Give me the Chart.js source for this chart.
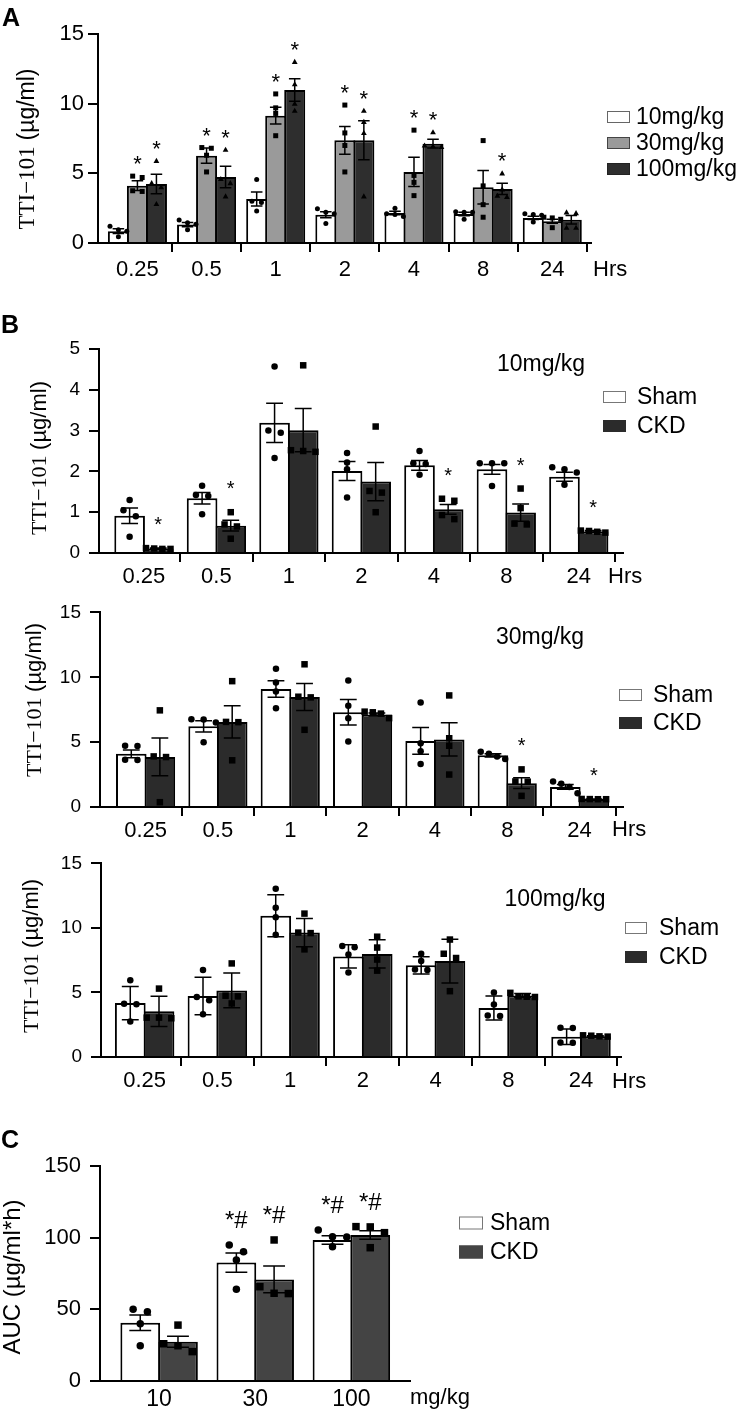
<!DOCTYPE html>
<html>
<head>
<meta charset="utf-8">
<script src="https://cdn.jsdelivr.net/npm/chart.js@4.4.1/dist/chart.umd.min.js"></script>
<style>
  html, body { margin: 0; padding: 0; background: #fff; }
  #fig { position: relative; width: 742px; height: 1409px; overflow: hidden; background: #fff; }
  #fig canvas { position: absolute; left: 0; }
</style>
</head>
<body>
<div id="fig">
  <canvas id="chartA" width="742" height="290" style="top:0px"></canvas>
  <canvas id="chartB10" width="742" height="302" style="top:290px"></canvas>
  <canvas id="chartB30" width="742" height="251" style="top:592px"></canvas>
  <canvas id="chartB100" width="742" height="252" style="top:843px"></canvas>
  <canvas id="chartC" width="742" height="314" style="top:1095px"></canvas>
</div>
<script>
// ---- data ----
const hours = ['0.25', '0.5', '1', '2', '4', '8', '24'];
const doses = ['10', '30', '100'];

// A: TTI-101 by dose (mean, SEM, individual animals)
const a10Mean = [0.85, 1.32, 3.16, 2.03, 2.15, 2.08, 1.8];
const a10Err = [0.17, 0.15, 0.5, 0.22, 0.13, 0.13, 0.12];
const a10Pts = [[1.2, 0.95, 0.85, 0.45], [1.65, 1.45, 1.35, 0.95], [4.55, 3.0, 2.9, 2.3], [2.45, 2.2, 2.1, 1.4], [2.5, 2.1, 2.05, 1.9], [2.25, 2.2, 2.2, 1.7], [2.1, 2.05, 2.0, 1.5]];
const a30Mean = [4.11, 6.27, 9.14, 7.37, 5.1, 4.0, 1.56];
const a30Err = [0.35, 0.55, 0.6, 1.0, 1.05, 1.2, 0.15];
const a30Pts = [[4.8, 4.7, 3.75, 3.7], [6.85, 6.8, 6.3, 5.1], [10.7, 9.7, 9.3, 7.7], [9.9, 7.9, 7.0, 5.1], [8.1, 4.85, 4.35, 3.4], [7.35, 4.1, 2.75, 1.85], [1.85, 1.8, 1.7, 1.1]];
const a30Sig = ['*', '*', '*', '*', '*', '', ''];
const a100Mean = [4.23, 4.74, 10.98, 7.37, 7.13, 3.88, 1.67];
const a100Err = [0.7, 0.77, 0.8, 1.4, 0.32, 0.4, 0.3];
const a100Pts = [[5.9, 4.3, 4.0, 2.8], [6.7, 4.6, 4.3, 3.35], [13.0, 11.4, 10.0, 9.5], [9.5, 8.7, 7.9, 3.35], [7.95, 7.0, 6.95, 6.9], [5.0, 3.85, 3.4, 3.3], [2.2, 2.15, 1.1, 1.1]];
const a100Sig = ['*', '*', '*', '*', '*', '*', ''];

// B: Sham vs CKD at 10 mg/kg
const b10ShamMean = [0.91, 1.34, 3.19, 2.01, 2.15, 2.05, 1.87];
const b10ShamErr = [0.19, 0.14, 0.48, 0.23, 0.12, 0.12, 0.11];
const b10ShamPts = [[1.3, 1.05, 0.9, 0.4], [1.65, 1.42, 1.4, 0.95], [4.57, 3.0, 2.95, 2.33], [2.45, 2.22, 2.05, 1.36], [2.5, 2.2, 2.18, 1.92], [2.2, 2.2, 2.2, 1.64], [2.1, 2.05, 1.97, 1.67]];
const b10CkdMean = [0.11, 0.67, 3.01, 1.75, 1.07, 0.99, 0.53];
const b10CkdErr = [0.01, 0.13, 0.53, 0.47, 0.12, 0.21, 0.02];
const b10CkdPts = [[0.12, 0.11, 0.1, 0.1], [1.0, 0.7, 0.65, 0.35], [4.6, 2.52, 2.5, 2.48], [3.1, 1.52, 1.48, 1.0], [1.33, 1.28, 0.93, 0.83], [1.58, 1.1, 0.72, 0.7], [0.55, 0.54, 0.52, 0.5]];
const b10Sig = ['*', '*', '', '', '*', '*', '*'];

// B: Sham vs CKD at 30 mg/kg
const b30ShamMean = [4.1, 6.22, 9.1, 7.3, 5.09, 3.98, 1.55];
const b30ShamErr = [0.3, 0.43, 0.64, 0.98, 1.03, 0.12, 0.19];
const b30ShamPts = [[4.72, 4.7, 3.65, 3.62], [6.77, 6.75, 6.52, 5.0], [10.65, 9.6, 8.9, 7.62], [9.75, 7.8, 6.85, 5.05], [8.06, 4.92, 4.3, 3.32], [4.25, 4.1, 3.9, 3.7], [1.97, 1.8, 1.55, 1.06]];
const b30CkdMean = [3.86, 6.56, 8.48, 7.13, 5.21, 1.84, 0.61];
const b30CkdErr = [1.45, 1.25, 1.04, 0.12, 1.28, 0.42, 0.01];
const b30CkdPts = [[7.45, 3.9, 3.85, 0.37], [9.7, 6.56, 6.54, 3.6], [11.0, 8.5, 8.45, 5.95], [7.35, 7.3, 7.2, 6.85], [8.6, 5.3, 4.72, 2.5], [2.9, 1.97, 1.95, 0.86], [0.62, 0.61, 0.6, 0.6]];
const b30Sig = ['', '', '', '', '', '*', '*'];

// B: Sham vs CKD at 100 mg/kg
const b100ShamMean = [4.18, 4.72, 10.94, 7.79, 7.1, 3.79, 1.57];
const b100ShamErr = [1.29, 1.45, 1.63, 0.9, 0.67, 0.93, 0.6];
const b100ShamPts = [[5.95, 4.12, 4.08, 2.75], [6.74, 4.65, 4.4, 3.32], [13.03, 11.56, 10.82, 9.47], [8.6, 8.5, 7.95, 6.55], [8.0, 7.43, 6.78, 6.74], [5.0, 4.06, 3.22, 3.18], [2.26, 2.24, 1.12, 1.1]];
const b100CkdMean = [3.54, 5.16, 9.64, 7.99, 7.43, 4.77, 1.6];
const b100CkdErr = [1.17, 1.35, 1.1, 1.1, 1.7, 0.15, 0.05];
const b100CkdPts = [[5.3, 3.05, 3.05, 3.0], [7.25, 4.75, 4.7, 4.15], [11.11, 9.64, 9.6, 8.34], [9.32, 8.48, 7.55, 6.69], [9.1, 8.0, 7.67, 5.1], [4.97, 4.7, 4.67, 4.65], [1.68, 1.65, 1.6, 1.58]];

// C: AUC by dose
const cShamMean = [40.7, 82.6, 98.4];
const cShamErr = [5.4, 6.7, 3.0];
const cShamPts = [[50, 48.4, 40, 24.6], [94.9, 90.2, 84.4, 64], [105.3, 100.7, 100.5, 93.7]];
const cCkdMean = [27.4, 70.9, 101.9];
const cCkdErr = [3.9, 9.3, 3.0];
const cCkdPts = [[39, 26, 24.6, 20.5], [98.4, 65.8, 61.2, 61.0], [107.7, 107.5, 103.5, 93]];
const cSig = ['', '*#', '*#'];

const SANS = "'Liberation Sans', Arial, sans-serif";
const SERIF = "'Liberation Serif', 'Times New Roman', serif";
Chart.defaults.font.family = SANS;
Chart.defaults.color = '#000';

function drawMarker(ctx, shape, x, y, s) {
    ctx.beginPath();
    if (shape === 'circle') {
        ctx.arc(x, y, s / 2, 0, Math.PI * 2);
    } else if (shape === 'rect') {
        ctx.rect(x - s / 2, y - s / 2, s, s);
    } else {
        ctx.moveTo(x, y - s * 0.6);
        ctx.lineTo(x + s * 0.58, y + s * 0.42);
        ctx.lineTo(x - s * 0.58, y + s * 0.42);
        ctx.closePath();
    }
    ctx.fill();
}

// spread overlapping animals sideways, like a scatter dot plot
function spreadDots(values, yScale, cx, barW, size) {
    const pts = values.map(v => ({ py: yScale.getPixelForValue(v) })).sort((a, b) => a.py - b.py);
    const groups = [];
    pts.forEach(p => {
        const g = groups[groups.length - 1];
        if (g && p.py - g[g.length - 1].py < size) g.push(p);
        else groups.push([p]);
    });
    groups.forEach(g => {
        const step = g.length > 1 ? Math.min(size * 1.9, barW * 0.8 / (g.length - 1)) : 0;
        g.forEach((p, k) => { p.px = cx + (k - (g.length - 1) / 2) * step; });
    });
    return pts;
}

const figurePlugin = {
    id: 'figure',
    afterDatasetsDraw(chart, args, opts) {
        const ctx = chart.ctx;
        const y = chart.scales.y;
        chart.data.datasets.forEach((ds, di) => {
            const meta = chart.getDatasetMeta(di);
            meta.data.forEach((bar, i) => {
                const mean = ds.data[i];
                const err = ds.errors[i];
                const x = bar.x;
                const w = bar.width;
                const yHi = y.getPixelForValue(mean + err);
                const yLo = y.getPixelForValue(Math.max(mean - err, 0));
                const cap = w * 0.55 / 2;
                ctx.save();
                ctx.strokeStyle = '#000';
                ctx.lineWidth = opts.errWidth;
                ctx.beginPath();
                ctx.moveTo(x, yHi); ctx.lineTo(x, yLo);
                ctx.moveTo(x - cap, yHi); ctx.lineTo(x + cap, yHi);
                ctx.moveTo(x - cap, yLo); ctx.lineTo(x + cap, yLo);
                ctx.stroke();

                ctx.fillStyle = '#000';
                const dots = spreadDots(ds.points[i], y, x, w, opts.dot);
                dots.forEach(p => drawMarker(ctx, ds.marker, p.px, p.py, opts.dot));

                const mark = ds.marks ? ds.marks[i] : '';
                if (mark) {
                    const top = Math.min(yHi, ...dots.map(p => p.py));
                    ctx.font = opts.markFont;
                    ctx.textAlign = 'center';
                    ctx.textBaseline = 'alphabetic';
                    ctx.fillText(mark, x, top - opts.markGap + opts.markLift);
                }
                ctx.restore();
            });
        });
    },
    afterDraw(chart, args, opts) {
        const ctx = chart.ctx;
        ctx.save();
        // legend
        const lg = opts.legend;
        chart.data.datasets.forEach((ds, i) => {
            const cy = lg.y + i * lg.dy;
            ctx.fillStyle = ds.backgroundColor;
            ctx.fillRect(lg.x, cy - lg.h / 2, lg.w, lg.h);
            ctx.strokeStyle = ds.legendEdge;
            ctx.lineWidth = 1;
            ctx.strokeRect(lg.x + 0.5, cy - lg.h / 2 + 0.5, lg.w - 1, lg.h - 1);
            ctx.fillStyle = '#000';
            ctx.font = lg.font;
            ctx.textAlign = 'left';
            ctx.textBaseline = 'middle';
            ctx.fillText(ds.label, lg.textX, cy + 1);
        });
        // free texts: panel letter, dose subtitle, unit
        opts.texts.forEach(t => {
            ctx.font = t.font;
            ctx.fillStyle = '#000';
            ctx.textAlign = t.align || 'left';
            ctx.textBaseline = t.baseline || 'middle';
            ctx.fillText(t.text, t.x, t.y);
        });
        // rotated y title, may mix fonts
        const yt = opts.yTitle;
        ctx.translate(yt.x, yt.y);
        ctx.rotate(-Math.PI / 2);
        let total = 0;
        yt.parts.forEach(p => { ctx.font = p[1]; total += ctx.measureText(p[0]).width; });
        let pos = -total / 2;
        ctx.textAlign = 'left';
        ctx.textBaseline = 'middle';
        ctx.fillStyle = '#000';
        yt.parts.forEach(p => {
            ctx.font = p[1];
            ctx.fillText(p[0], pos, 0);
            pos += ctx.measureText(p[0]).width;
        });
        ctx.restore();
    }
};

function barSet(label, mean, err, pts, marks, color, edge, marker, pct) {
    return {
        label: label,
        data: mean,
        errors: err,
        points: pts,
        marks: marks,
        marker: marker,
        legendEdge: edge,
        backgroundColor: color,
        borderColor: '#000',
        borderWidth: 2,
        borderSkipped: 'start',
        categoryPercentage: pct[0],
        barPercentage: pct[1]
    };
}

function panel(id, p) {
    const canvas = document.getElementById(id);
    const H = canvas.height;
    const hideFirst = c => (c.index === 0 ? 'rgba(0,0,0,0)' : '#000');
    return new Chart(canvas, {
        type: 'bar',
        data: { labels: p.labels.map((_, i) => i), datasets: p.datasets },
        plugins: [figurePlugin],
        options: {
            responsive: false,
            animation: false,
            events: [],
            layout: { padding: { left: 0, top: p.area.top, right: canvas.width - p.area.right, bottom: 0 } },
            plugins: {
                legend: { display: false },
                tooltip: { enabled: false },
                figure: p.fig
            },
            scales: {
                x: {
                    type: 'linear',
                    min: p.xMin,
                    max: p.xMax,
                    bounds: 'data',
                    offset: false,
                    afterBuildTicks: ax => { ax.ticks = p.labels.map((_, i) => ({ value: i })); },
                    afterFit: ax => { ax.height = H - p.area.bottom; },
                    grid: {
                        display: p.xTicks,
                        offset: true,
                        drawOnChartArea: false,
                        drawTicks: p.xTicks,
                        tickLength: 9,
                        lineWidth: 2,
                        color: hideFirst,
                        tickColor: hideFirst
                    },
                    border: { display: true, color: '#000', width: 2 },
                    ticks: {
                        callback: v => p.labels[v],
                        autoSkip: false,
                        maxRotation: 0,
                        color: '#000',
                        padding: p.xPad,
                        font: { size: p.xFont }
                    }
                },
                y: {
                    min: 0,
                    max: p.yMax,
                    afterFit: ax => { ax.width = p.area.left; },
                    grid: { drawOnChartArea: false, drawTicks: true, tickLength: 10, lineWidth: 2, color: '#000' },
                    border: { color: '#000', width: 2 },
                    ticks: { stepSize: p.yStep, color: '#000', padding: p.yPad, font: { size: p.yFont } }
                }
            }
        }
    });
}

const ttiTitle = [['TTI\u2212101 ', '22px ' + SERIF], ['(\u00b5g/ml)', '22px ' + SANS]];
const pctA = [0.825, 1.105];
const pctB = [0.79, 1.07];
const pctC = [0.785, 1.053];

panel('chartA', {
    labels: hours, xMin: -0.57, xMax: 6.56, yMax: 15, yStep: 5,
    area: { left: 98, right: 591, top: 34, bottom: 243 },
    xTicks: true, xPad: 5, xFont: 22, yPad: 4, yFont: 22,
    datasets: [
        barSet('10mg/kg', a10Mean, a10Err, a10Pts, null, '#ffffff', '#666666', 'circle', pctA),
        barSet('30mg/kg', a30Mean, a30Err, a30Pts, a30Sig, '#9a9a9a', '#444444', 'rect', pctA),
        barSet('100mg/kg', a100Mean, a100Err, a100Pts, a100Sig, '#2e2e2e', '#222222', 'triangle', pctA)
    ],
    fig: {
        errWidth: 1.5, dot: 5, markFont: '22px ' + SANS, markGap: 17, markLift: 12,
        legend: { x: 607, y: 117, dy: 26, w: 23, h: 12, textX: 636, font: '23px ' + SANS },
        texts: [
            { text: 'A', x: 2, y: 26, font: 'bold 25px ' + SANS, baseline: 'alphabetic' },
            { text: 'Hrs', x: 593, y: 270, font: '22px ' + SANS }
        ],
        yTitle: { x: 28, y: 149, parts: [['TTI\u2212101 ', '23px ' + SERIF], ['(\u00b5g/ml)', '23px ' + SANS]] }
    }
});

function panelB(id, sham, ckd, opt) {
    panel(id, {
        labels: hours, xMin: opt.xMin, xMax: opt.xMax, yMax: opt.yMax, yStep: opt.yStep,
        area: opt.area, xTicks: true, xPad: 2, xFont: 22, yPad: 9, yFont: 19,
        datasets: [
            barSet('Sham', sham[0], sham[1], sham[2], null, '#ffffff', '#777777', 'circle', pctB),
            barSet('CKD', ckd[0], ckd[1], ckd[2], ckd[3], '#2b2b2b', '#2b2b2b', 'rect', pctB)
        ],
        fig: {
            errWidth: 1.5, dot: 6.5, markFont: '20px ' + SANS, markGap: 28, markLift: 11,
            legend: opt.legend,
            texts: opt.texts,
            yTitle: opt.yTitle
        }
    });
}

panelB('chartB10',
    [b10ShamMean, b10ShamErr, b10ShamPts],
    [b10CkdMean, b10CkdErr, b10CkdPts, b10Sig],
    {
        xMin: -0.62, xMax: 6.61, yMax: 5, yStep: 1,
        area: { left: 99, right: 623, top: 59, bottom: 263 },
        legend: { x: 603, y: 107, dy: 29, w: 23, h: 12, textX: 637, font: '23px ' + SANS },
        texts: [
            { text: 'B', x: 1, y: 43, font: 'bold 25px ' + SANS, baseline: 'alphabetic' },
            { text: '10mg/kg', x: 541, y: 75, font: '23px ' + SANS, align: 'center' },
            { text: 'Hrs', x: 608, y: 287, font: '22px ' + SANS }
        ],
        yTitle: { x: 40, y: 168, parts: ttiTitle }
    });

panelB('chartB30',
    [b30ShamMean, b30ShamErr, b30ShamPts],
    [b30CkdMean, b30CkdErr, b30CkdPts, b30Sig],
    {
        xMin: -0.63, xMax: 6.6, yMax: 15, yStep: 5,
        area: { left: 100, right: 623, top: 11, bottom: 215 },
        legend: { x: 619, y: 103, dy: 28, w: 23, h: 12, textX: 653, font: '23px ' + SANS },
        texts: [
            { text: '30mg/kg', x: 540, y: 46, font: '23px ' + SANS, align: 'center' },
            { text: 'Hrs', x: 612, y: 238, font: '22px ' + SANS }
        ],
        yTitle: { x: 35, y: 108, parts: ttiTitle }
    });

panelB('chartB100',
    [b100ShamMean, b100ShamErr, b100ShamPts],
    [b100CkdMean, b100CkdErr, b100CkdPts, null],
    {
        xMin: -0.6, xMax: 6.55, yMax: 15, yStep: 5,
        area: { left: 101, right: 621, top: 11, bottom: 214 },
        legend: { x: 625, y: 85, dy: 29, w: 22, h: 12, textX: 659, font: '23px ' + SANS },
        texts: [
            { text: '100mg/kg', x: 555, y: 57, font: '23px ' + SANS, align: 'center' },
            { text: 'Hrs', x: 612, y: 239, font: '22px ' + SANS }
        ],
        yTitle: { x: 32, y: 113, parts: ttiTitle }
    });

panel('chartC', {
    labels: doses, xMin: -0.615, xMax: 2.61, yMax: 150, yStep: 50,
    area: { left: 100, right: 410, top: 71, bottom: 286 },
    xTicks: false, xPad: 5, xFont: 23, yPad: 9, yFont: 22,
    datasets: [
        barSet('Sham', cShamMean, cShamErr, cShamPts, cSig, '#ffffff', '#777777', 'circle', pctC),
        barSet('CKD', cCkdMean, cCkdErr, cCkdPts, cSig, '#444444', '#444444', 'rect', pctC)
    ],
    fig: {
        errWidth: 1.5, dot: 7.5, markFont: '24px ' + SANS, markGap: 26, markLift: 9,
        legend: { x: 459, y: 128, dy: 29, w: 24, h: 13, textX: 490, font: '23px ' + SANS },
        texts: [
            { text: 'C', x: 1, y: 53, font: 'bold 25px ' + SANS, baseline: 'alphabetic' },
            { text: 'mg/kg', x: 410, y: 303, font: '22px ' + SANS }
        ],
        yTitle: { x: 13, y: 182, parts: [['AUC (\u00b5g/ml*h)', '24px ' + SANS]] }
    }
});
</script>
</body>
</html>
